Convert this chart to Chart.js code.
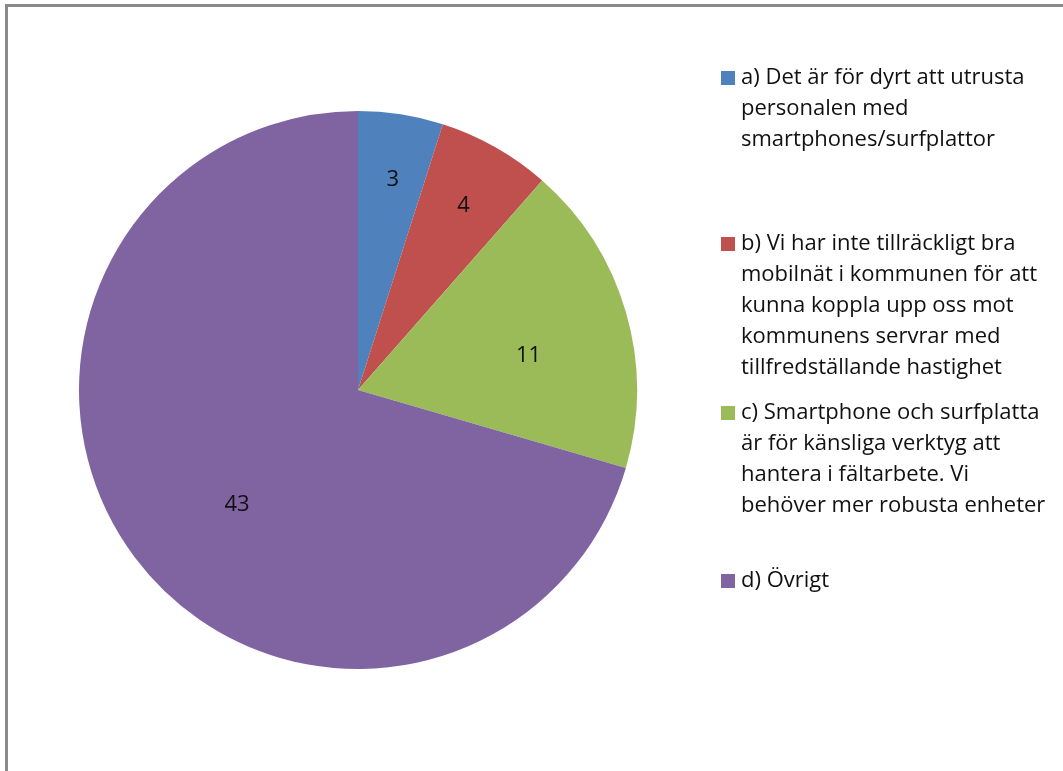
<!DOCTYPE html>
<html>
<head>
<meta charset="utf-8">
<script src="https://cdn.jsdelivr.net/npm/chart.js@4.4.1/dist/chart.umd.min.js"></script>
<style>
  html, body { margin: 0; padding: 0; background: #ffffff; }
  #wrap { position: relative; width: 1063px; height: 771px; }
  canvas { display: block; }
</style>
</head>
<body>
<div id="wrap"><canvas id="pie" width="1063" height="771"></canvas></div>
<script>
// Answer categories (each legend entry wraps over several lines)
const categories = [
  ['a) Det är för dyrt att utrusta', 'personalen med', 'smartphones/surfplattor'],
  ['b) Vi har inte tillräckligt bra', 'mobilnät i kommunen för att', 'kunna koppla upp oss mot', 'kommunens servrar med', 'tillfredställande hastighet'],
  ['c) Smartphone och surfplatta', 'är för känsliga verktyg att', 'hantera i fältarbete. Vi', 'behöver mer robusta enheter'],
  ['d) Övrigt']
];
// Number of answers per category
const answers = [3, 4, 11, 43];
const sliceColors = ['#4F81BD', '#C0504D', '#9BBB59', '#8064A2'];

const FONT = '"Open Sans", "Lato", sans-serif';

// Frame around the chart area (top and left edges)
const framePlugin = {
  id: 'frame',
  beforeDraw(chart) {
    const ctx = chart.ctx;
    ctx.save();
    ctx.fillStyle = '#ffffff';
    ctx.fillRect(0, 0, chart.width, chart.height);
    ctx.fillStyle = '#8a8a8a';
    ctx.fillRect(5, 4, chart.width - 5, 3);
    ctx.fillRect(5, 4, 3, chart.height - 4);
    ctx.restore();
  }
};

// Value labels inside the slices (radial distance as a share of the radius,
// plus a small angular nudge in degrees)
const valueLabels = {
  id: 'valueLabels',
  afterDatasetsDraw(chart) {
    const ctx = chart.ctx;
    const meta = chart.getDatasetMeta(0);
    const radial = [0.768, 0.763, 0.624, 0.595];
    const nudge = [0.5, 0.2, 4.7, -6.3];
    ctx.save();
    ctx.font = '22px ' + FONT;
    ctx.fillStyle = '#111111';
    ctx.textAlign = 'center';
    ctx.textBaseline = 'middle';
    meta.data.forEach((arc, i) => {
      const p = arc.getProps(['x', 'y', 'startAngle', 'endAngle', 'outerRadius'], true);
      const mid = (p.startAngle + p.endAngle) / 2 + nudge[i] * Math.PI / 180;
      const r = p.outerRadius * radial[i];
      ctx.fillText(String(chart.data.datasets[0].data[i]), p.x + Math.cos(mid) * r, p.y + Math.sin(mid) * r + 1);
    });
    ctx.restore();
  }
};

// Legend at the right, with wrapped labels
const sideLegend = {
  id: 'sideLegend',
  afterDraw(chart) {
    const ctx = chart.ctx;
    const firstLineY = [78, 244, 413, 581];
    const lineH = 31;
    const boxX = 721, box = 14, textX = 741;
    ctx.save();
    ctx.font = '22px ' + FONT;
    ctx.textBaseline = 'middle';
    ctx.textAlign = 'left';
    chart.data.labels.forEach((lines, i) => {
      const y0 = firstLineY[i];
      ctx.fillStyle = chart.data.datasets[0].backgroundColor[i];
      ctx.fillRect(boxX, y0 - box / 2, box, box);
      ctx.fillStyle = '#111111';
      lines.forEach((t, k) => ctx.fillText(t, textX, y0 + k * lineH));
    });
    ctx.restore();
  }
};

new Chart(document.getElementById('pie'), {
  type: 'pie',
  data: {
    labels: categories,
    datasets: [{
      data: answers,
      backgroundColor: sliceColors,
      borderWidth: 0
    }]
  },
  options: {
    responsive: false,
    animation: false,
    layout: { padding: { left: 79, right: 426, top: 111, bottom: 102 } },
    plugins: {
      legend: { display: false },
      tooltip: { enabled: false }
    }
  },
  plugins: [framePlugin, valueLabels, sideLegend]
});
</script>
</body>
</html>
